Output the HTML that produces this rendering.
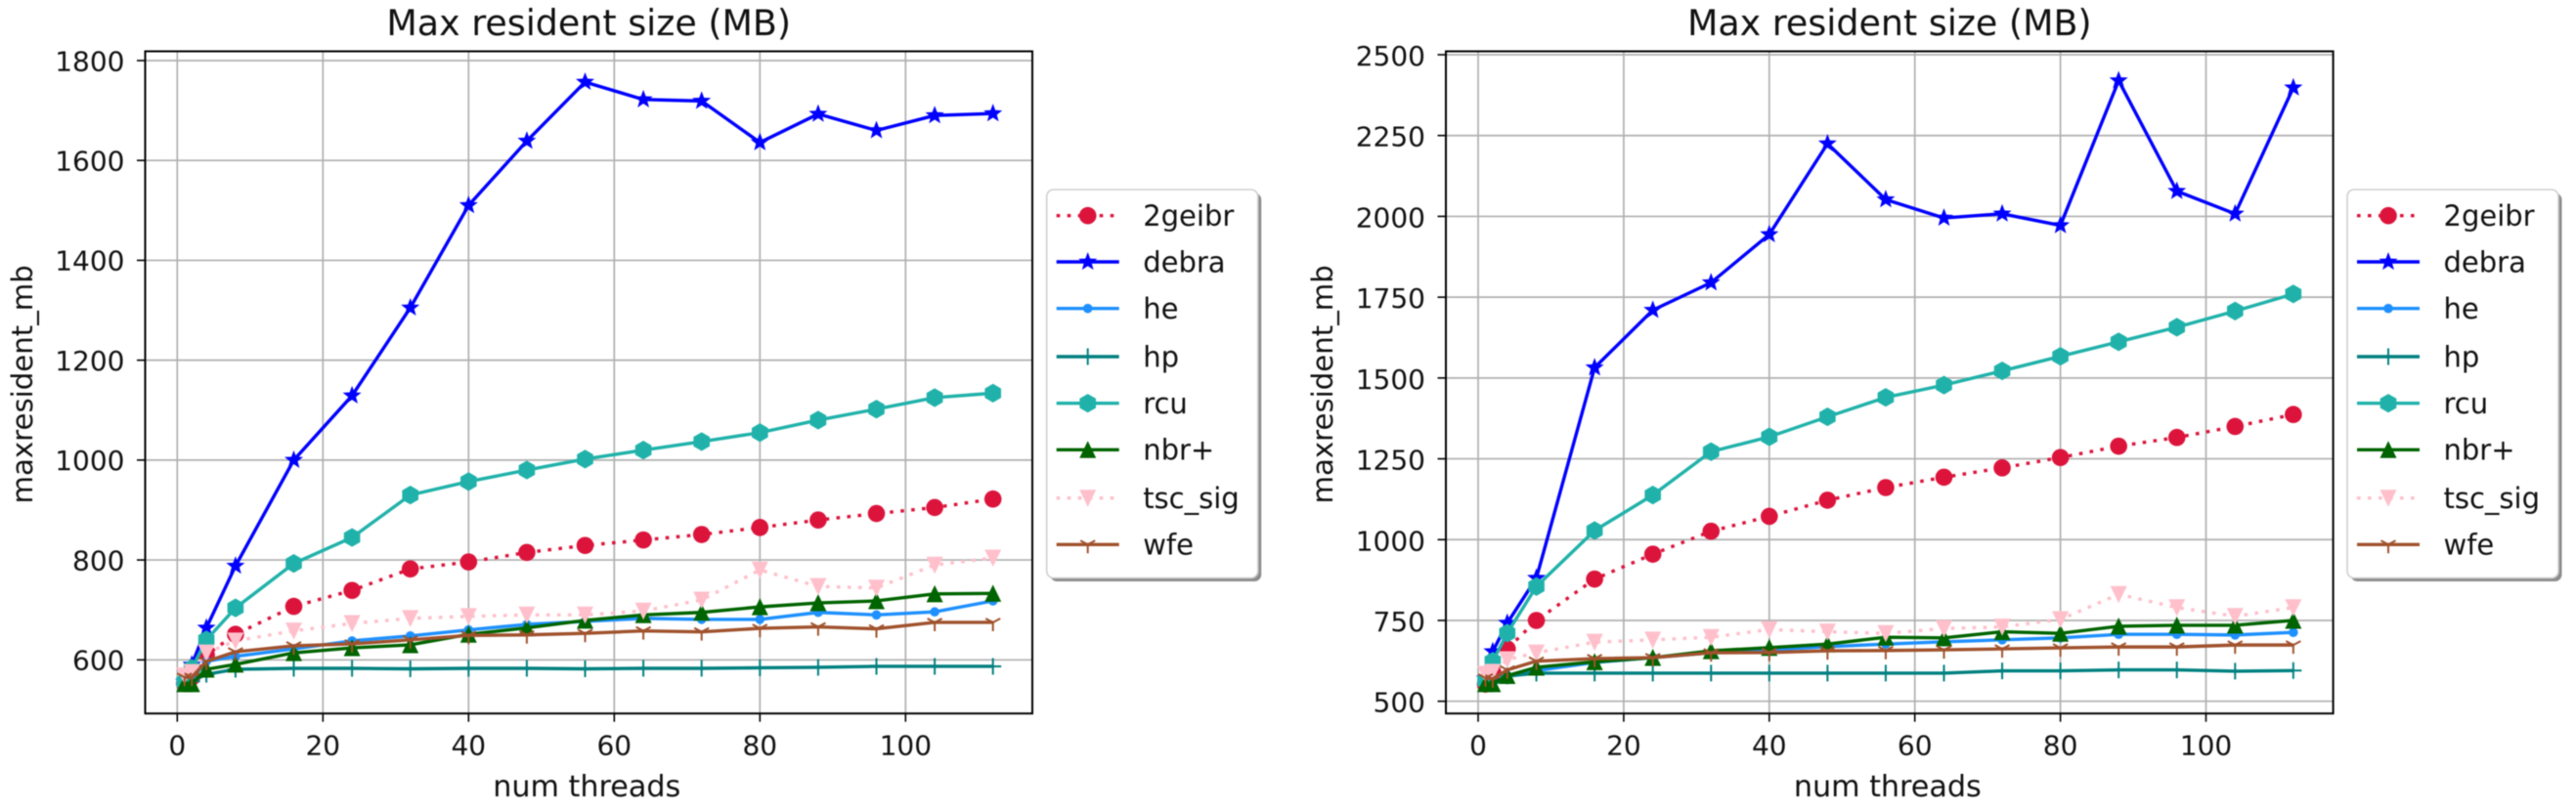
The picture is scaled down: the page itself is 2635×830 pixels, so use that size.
<!DOCTYPE html>
<html>
<head>
<meta charset="utf-8">
<title>Max resident size charts</title>
<style>
html,body{margin:0;padding:0;background:#fff;}
body{width:2635px;height:830px;overflow:hidden;}
svg{display:block;filter:blur(0.55px);}
text{font-family:"DejaVu Sans","Liberation Sans",sans-serif;fill:#111;}
</style>
</head>
<body>
<svg id="figure" xmlns="http://www.w3.org/2000/svg" width="2635" height="830" viewBox="0 0 2635 830"></svg>
<script>
const threads = [1,2,4,8,16,24,32,40,48,56,64,72,80,88,96,104,112];
const xTicks = [0,20,40,60,80,100];
const leftYTicks = [600,800,1000,1200,1400,1600,1800];
const rightYTicks = [500,750,1000,1250,1500,1750,2000,2250,2500];
const seriesNames = ['2geibr','debra','he','hp','rcu','nbr+','tsc_sig','wfe'];

const left2geibr = [553,565,610,651,707,739,782,796,815,829,840,851,865,880,893,905,922];
const leftDebra = [556,590,664,788,1000,1129,1305,1510,1639,1757,1722,1719,1636,1693,1660,1690,1694];
const leftHe = [555,560,597,607,622,638,648,660,671,677,683,681,681,695,690,696,718];
const leftHp = [555,557,571,581,583,583,582,583,583,582,583,583,584,585,587,587,587];
const leftRcu = [556,583,640,704,793,845,930,957,980,1002,1020,1037,1055,1080,1102,1125,1134];
const leftNbr = [552,552,581,591,614,624,630,651,664,679,690,695,706,714,718,732,733];
const leftTsc = [568,575,614,638,658,673,683,687,690,690,698,720,780,747,744,790,804];
const leftWfe = [565,565,597,616,628,632,640,649,650,653,658,656,663,666,662,675,675];

const right2geibr = [553,590,662,750,878,955,1026,1072,1122,1161,1193,1222,1254,1289,1316,1350,1387];
const rightDebra = [570,654,742,881,1532,1710,1795,1944,2225,2052,1995,2008,1972,2420,2078,2008,2398];
const rightHe = [555,555,580,595,620,635,650,659,669,677,684,690,696,707,707,705,713];
const rightHp = [555,557,578,587,587,587,587,587,587,587,587,594,594,597,597,593,595];
const rightRcu = [563,624,711,855,1028,1138,1272,1318,1380,1440,1478,1522,1567,1612,1657,1707,1760];
const rightNbr = [554,554,579,605,622,635,656,666,677,698,696,715,710,732,735,735,750];
const rightTsc = [584,590,629,650,683,690,698,722,715,710,725,730,753,831,790,763,790];
const rightWfe = [572,569,597,624,632,635,650,651,656,657,659,662,665,668,668,674,674];

const leftValues = [left2geibr,leftDebra,leftHe,leftHp,leftRcu,leftNbr,leftTsc,leftWfe];
const rightValues = [right2geibr,rightDebra,rightHe,rightHp,rightRcu,rightNbr,rightTsc,rightWfe];

const seriesColors = ['#dc143c','#0000ff','#1e90ff','#008080','#20b2aa','#006400','#ffc0cb','#a0522d'];
const seriesMarkers = ['circle','star','dot','plus','hexagon','triUp','triDown','triY'];
const seriesDotted = [true,false,false,false,false,false,true,false];

const NS = 'http://www.w3.org/2000/svg';
const fig = document.getElementById('figure');

function mk(parent, tag, attrs, txt){
  const e = document.createElementNS(NS, tag);
  for (const k in attrs) e.setAttribute(k, attrs[k]);
  if (txt !== undefined) e.textContent = txt;
  parent.appendChild(e);
  return e;
}

function polyPts(cx, cy, pts){
  return pts.map(p => (cx + p[0]).toFixed(2) + ',' + (cy + p[1]).toFixed(2)).join(' ');
}

function drawMarker(g, type, cx, cy, color){
  let m;
  if (type === 'circle') {
    m = mk(g, 'circle', {cx: cx, cy: cy, r: 8.8, fill: color});
  } else if (type === 'dot') {
    m = mk(g, 'circle', {cx: cx, cy: cy, r: 4.8, fill: color});
  } else if (type === 'star') {
    const pts = [];
    for (let i = 0; i < 10; i++) {
      const r = i % 2 ? 4.2 : 10;
      const a = -Math.PI / 2 + i * Math.PI / 5;
      pts.push([r * Math.cos(a), r * Math.sin(a)]);
    }
    m = mk(g, 'polygon', {points: polyPts(cx, cy, pts), fill: color});
  } else if (type === 'hexagon') {
    const pts = [];
    for (let i = 0; i < 6; i++) {
      const a = -Math.PI / 2 + i * Math.PI / 3;
      pts.push([9.6 * Math.cos(a), 9.6 * Math.sin(a)]);
    }
    m = mk(g, 'polygon', {points: polyPts(cx, cy, pts), fill: color});
  } else if (type === 'triUp') {
    m = mk(g, 'polygon', {points: polyPts(cx, cy, [[0,-9],[-8.5,8.5],[8.5,8.5]]), fill: color});
  } else if (type === 'triDown') {
    m = mk(g, 'polygon', {points: polyPts(cx, cy, [[0,9],[-8.5,-8.5],[8.5,-8.5]]), fill: color});
  } else if (type === 'plus') {
    m = mk(g, 'path', {d: `M${cx} ${cy-8.5}V${cy+8.5}M${cx-8.5} ${cy}H${cx+8.5}`, stroke: color, 'stroke-width': 2, fill: 'none'});
  } else {
    m = mk(g, 'path', {d: `M${cx} ${cy}V${cy+9}M${cx} ${cy}L${cx-7.5} ${cy-4}M${cx} ${cy}L${cx+7.5} ${cy-4}`, stroke: color, 'stroke-width': 2, fill: 'none'});
  }
  
  
}

function drawChart(id, box, xScale, yScale, yTicks, values, legendBox){
  const root = mk(fig, 'g', {});
  
  

  const X = v => xScale.zero + v * xScale.perUnit;
  const Y = v => yScale.base - (v - yScale.baseValue) * yScale.perUnit;

  const plotBg = mk(root, 'rect', {x: box.l, y: box.t, width: box.r - box.l, height: box.b - box.t, fill: '#fff'});
  
  

  xTicks.forEach(t => {
    const gl = mk(root, 'line', {x1: X(t), x2: X(t), y1: box.t, y2: box.b, stroke: '#b0b0b0', 'stroke-width': 1.7});
    
    
    const tk = mk(root, 'line', {x1: X(t), x2: X(t), y1: box.b, y2: box.b + 8.5, stroke: '#000', 'stroke-width': 1.6});
    
    
    const lb = mk(root, 'text', {x: X(t), y: 772.5, 'text-anchor': 'middle', 'font-size': 28}, String(t));
    
    
  });
  yTicks.forEach(t => {
    const gl = mk(root, 'line', {x1: box.l, x2: box.r, y1: Y(t), y2: Y(t), stroke: '#b0b0b0', 'stroke-width': 1.7});
    
    
    const tk = mk(root, 'line', {x1: box.l - 8.5, x2: box.l, y1: Y(t), y2: Y(t), stroke: '#000', 'stroke-width': 1.6});
    
    
    const lb = mk(root, 'text', {x: box.l - 21, y: Y(t) + box.tickBaseline, 'text-anchor': 'end', 'font-size': 28}, String(t));
    
    
  });

  seriesNames.forEach((name, si) => {
    const g = mk(root, 'g', {});
    
    
    const pts = threads.map((t, i) => X(t).toFixed(2) + ',' + Y(values[si][i]).toFixed(2)).join(' ');
    const attrs = {points: pts, fill: 'none', stroke: seriesColors[si], 'stroke-width': 3.4, 'stroke-linejoin': 'round'};
    if (seriesDotted[si]) attrs['stroke-dasharray'] = '3.6 7.4';
    const ln = mk(g, 'polyline', attrs);
    
    
    threads.forEach((t, i) => drawMarker(g, seriesMarkers[si], X(t), Y(values[si][i]), seriesColors[si]));
  });

  const frame = mk(root, 'rect', {x: box.l, y: box.t, width: box.r - box.l, height: box.b - box.t, fill: 'none', stroke: '#000', 'stroke-width': 2});
  
  

  const title = mk(root, 'text', {x: (box.l + box.r) / 2, y: 36, 'text-anchor': 'middle', 'font-size': 36.4}, 'Max resident size (MB)');
  
  

  const xl = mk(root, 'text', {x: (box.l + box.r) / 2 - 2, y: 815, 'text-anchor': 'middle', 'font-size': 30.2}, 'num threads');
  
  

  const yc = (box.t + box.b) / 2 + 2;
  const yl = mk(root, 'text', {x: box.ylabelX, y: yc, 'text-anchor': 'middle', 'font-size': 29.2, transform: `rotate(-90 ${box.ylabelX} ${yc})`}, 'maxresident_mb');
  
  

  const lg = mk(root, 'g', {});
  
  
  const shadow = mk(lg, 'rect', {x: legendBox.l + 3.5, y: legendBox.t + 3.5, width: legendBox.w, height: legendBox.h, rx: 7, fill: '#8c8c8c'});
  
  
  const lbox = mk(lg, 'rect', {x: legendBox.l, y: legendBox.t, width: legendBox.w, height: legendBox.h, rx: 7, fill: '#fff', stroke: '#cfcfcf', 'stroke-width': 1.6});
  
  

  const rowYs = [220.7, 268, 315.7, 365, 412.7, 460.3, 509.7, 557.3];
  seriesNames.forEach((name, si) => {
    const row = mk(lg, 'g', {});
    
    
    const ly = rowYs[si];
    const lx = legendBox.l + 10;
    const attrs = {x1: lx, x2: lx + 64, y1: ly, y2: ly, stroke: seriesColors[si], 'stroke-width': 3.4};
    if (seriesDotted[si]) attrs['stroke-dasharray'] = '3.6 7.4';
    const sw = mk(row, 'line', attrs);
    
    
    drawMarker(row, seriesMarkers[si], lx + 32, ly, seriesColors[si]);
    const tx = mk(row, 'text', {x: legendBox.l + 98.5, y: ly + 10.4, 'font-size': 29}, name);
    
    
  });
}

drawChart('left',
  {l: 148.5, r: 1056, t: 52.5, b: 730.2, ylabelX: 33, tickBaseline: 10.3},
  {zero: 181.3, perUnit: 7.45},
  {base: 675.3, baseValue: 600, perUnit: 0.5111},
  leftYTicks, leftValues,
  {l: 1070.7, t: 194, w: 216, h: 397.5});

drawChart('right',
  {l: 1479, r: 2386.6, t: 52.5, b: 730.2, ylabelX: 1363, tickBaseline: 11},
  {zero: 1512, perUnit: 7.445},
  {base: 717.7, baseValue: 500, perUnit: 0.33085},
  rightYTicks, rightValues,
  {l: 2401, t: 194, w: 216, h: 397.5});
</script>
</body>
</html>
